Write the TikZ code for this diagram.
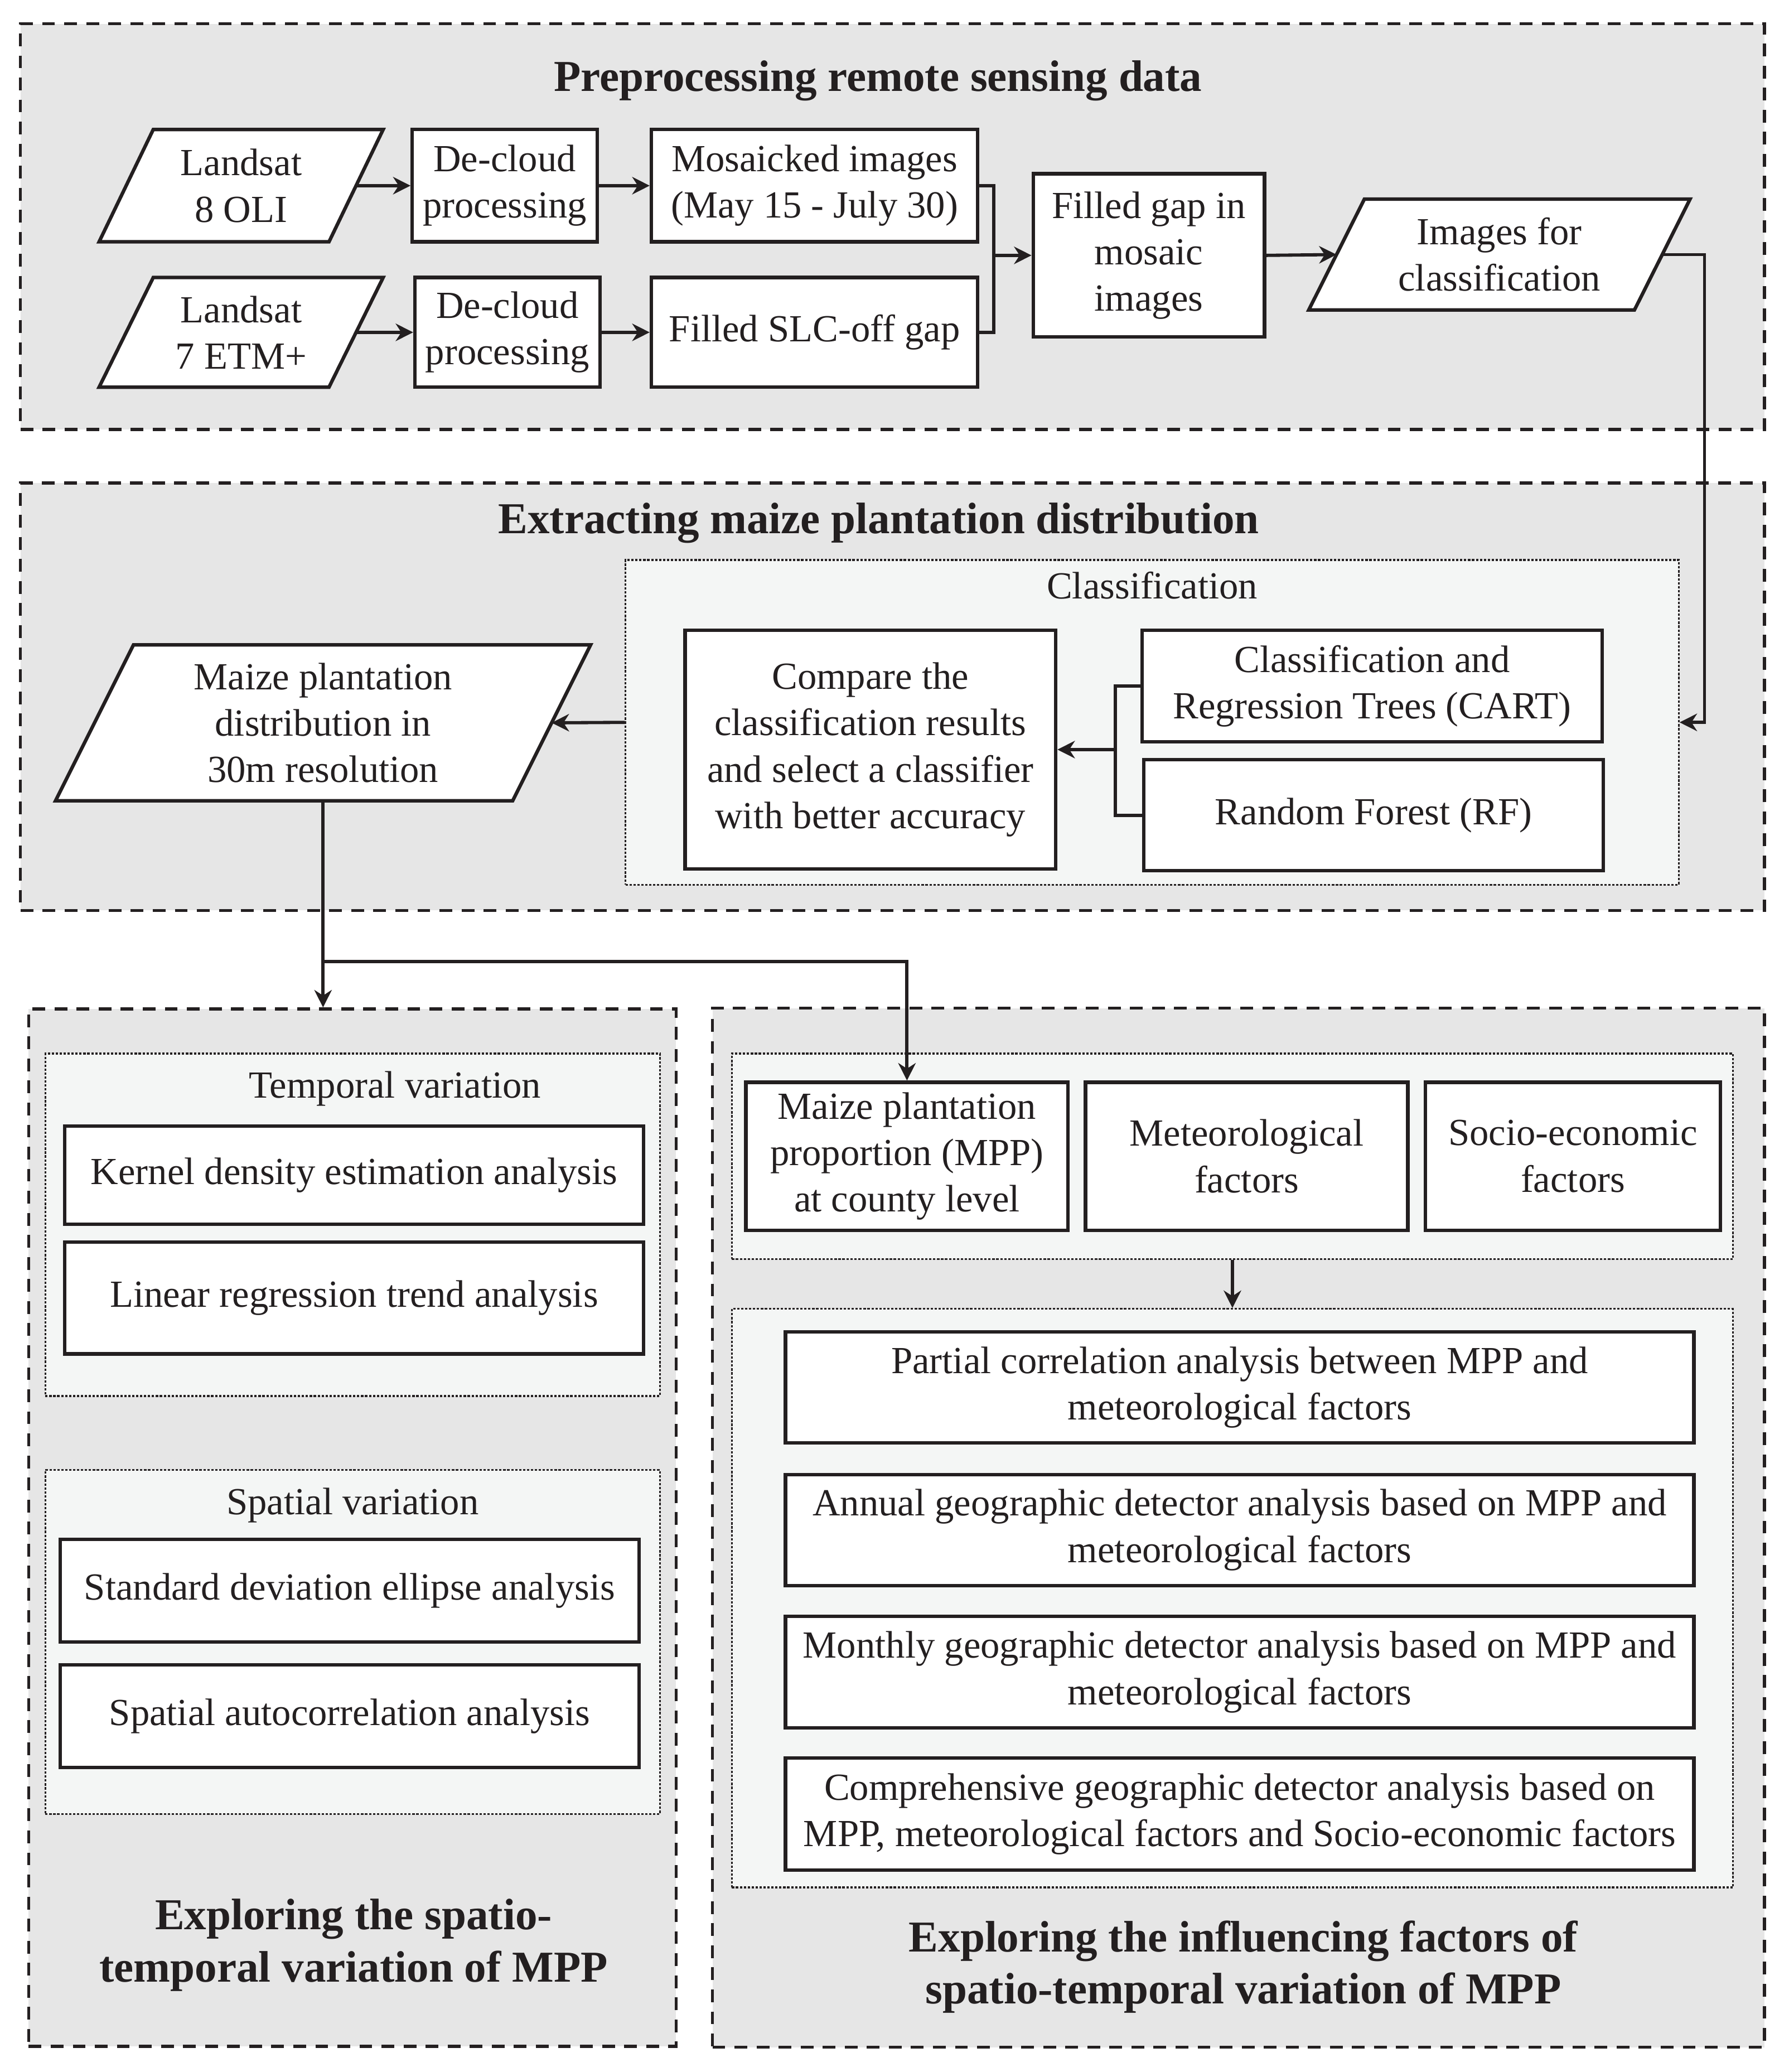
\documentclass[tikz,border=0pt]{standalone}
\usepackage{fontspec}
\setmainfont{Liberation Serif}
\usetikzlibrary{arrows.meta,calc}
\definecolor{outergray}{HTML}{E6E6E6}
\definecolor{innergray}{HTML}{F4F6F5}
\definecolor{ink}{HTML}{231F20}
\newcommand\mkbox[7]{%
  \node[#1, minimum width={(#5-#3)*0.02cm}, minimum height={(#6-#4)*0.02cm}] (#2) at ({(#3+#5)/2},{(#4+#6)/2}) {#7};}
\newcommand\mkpara[6]{%
  \draw[parabox] (#2,#3) -- (#4,#5) -- ({#4+#6},#5) -- ({#2+#6},#3) -- cycle;
  \coordinate (#1-l) at ({(#2+#4)/2},{(#3+#5)/2});
  \coordinate (#1-r) at ({(#2+#4)/2+#6},{(#3+#5)/2});
  \coordinate (#1-b) at ({(#2+#4+#6)/2},#3);
  \coordinate (#1-c) at ({(#2+#4+#6)/2},{(#3+#5)/2});}
\tikzset{
  txt/.style={font=\fontsize{16.5}{20}\selectfont, align=center, text=ink},
  ttl/.style={font=\fontsize{19}{22.5}\selectfont\bfseries, align=center, text=ink},
  outerbox/.style={draw=ink, fill=outergray, line width=1.3pt, dash pattern=on 5.5pt off 4pt, inner sep=0pt},
  innerbox/.style={draw=ink, fill=innergray, line width=0.8pt, dash pattern=on 1pt off 0.7pt, inner sep=0pt},
  whitebox/.style={txt, draw=ink, fill=white, line width=1.5pt, inner sep=2pt},
  parabox/.style={draw=ink, fill=white, line width=1.5pt, line join=miter},
  conn/.style={draw=ink, line width=1.4pt},
  arr/.style={conn, -{Stealth[length=7.5pt,width=7.5pt,inset=2.4pt]}},
}
\begin{document}
\begin{tikzpicture}[x=0.02cm, y=-0.02cm]
\useasboundingbox (0,0) rectangle (1354,1568);
\fill[white] (0,0) rectangle (1354,1568);

% ---------- outer containers ----------
\mkbox{outerbox}{pre}{15.5}{18}{1335.5}{325}{}
\mkbox{outerbox}{ext}{15.5}{365.5}{1335.5}{689}{}
\mkbox{outerbox}{lbox}{21.7}{763.5}{511.7}{1548.6}{}
\mkbox{outerbox}{rbox}{539.2}{763}{1335.4}{1549.3}{}

% ---------- inner dotted containers ----------
\mkbox{innerbox}{cls}{473.4}{423.7}{1270.5}{669.6}{}
\mkbox{innerbox}{tmp}{34.3}{797.3}{499.4}{1056.5}{}
\mkbox{innerbox}{spa}{34.3}{1112.4}{499.4}{1372.8}{}
\mkbox{innerbox}{rtop}{553.9}{797.3}{1311.6}{952.7}{}
\mkbox{innerbox}{rbot}{553.9}{990.5}{1311.6}{1428.3}{}

% ---------- titles and labels ----------
\node[ttl] (t1) at (664.5,61) {Preprocessing remote sensing data};
\node[ttl] (t2) at (665,396) {Extracting maize plantation distribution};
\node[ttl] (t3) at (267.6,1472) {Exploring the spatio-\\temporal variation of MPP};
\node[ttl] (t4) at (941,1488.5) {Exploring the influencing factors of\\spatio-temporal variation of MPP};
\node[txt] (clsl) at (872,443) {Classification};
\node[txt] (tmpl) at (299,824) {Temporal variation};
\node[txt] (spal) at (266.9,1139) {Spatial variation};

% ---------- preprocessing ----------
\mkpara{l8}{75}{183}{116}{98}{174}
\node[txt] (l8t) at (l8-c) {Landsat\\8 OLI};
\mkpara{l7}{75}{293}{116}{210}{174}
\node[txt] (l7t) at (l7-c) {Landsat\\7 ETM+};
\mkbox{whitebox}{dc1}{312}{98}{452}{183}{De-cloud\\processing}
\mkbox{whitebox}{dc2}{314}{210}{454}{293}{De-cloud\\processing}
\mkbox{whitebox}{mos}{493}{98}{740}{183}{Mosaicked images\\(May 15 - July 30)}
\mkbox{whitebox}{slc}{493}{210}{740}{293}{Filled SLC-off gap}
\mkbox{whitebox}{fg}{782}{131.5}{957}{255}{Filled gap in\\mosaic\\images}
\mkpara{img}{990.5}{234.6}{1032.6}{150.7}{246.5}
\node[txt] (imgt) at (img-c) {Images for\\classification};

% ---------- extraction ----------
\mkpara{mz}{42}{606}{101}{488}{346}
\node[txt] (mzt) at (mz-c) {Maize plantation\\distribution in\\30m resolution};
\mkbox{whitebox}{cmp}{518.5}{477}{799}{657.5}{Compare the\\classification results\\and select a classifier\\with better accuracy}
\mkbox{whitebox}{cart}{864.5}{477}{1212.5}{561.5}{Classification and\\Regression Trees (CART)}
\mkbox{whitebox}{rf}{865.7}{575}{1213.4}{659}{Random Forest (RF)}

% ---------- spatio-temporal ----------
\mkbox{whitebox}{ker}{49}{852}{487}{926.4}{Kernel density estimation analysis}
\mkbox{whitebox}{lin}{49}{940}{487}{1024.6}{Linear regression trend analysis}
\mkbox{whitebox}{sde}{45.5}{1165}{483.7}{1242.7}{Standard deviation ellipse analysis}
\mkbox{whitebox}{sac}{45.5}{1260}{483.7}{1337.6}{Spatial autocorrelation analysis}

% ---------- influencing factors ----------
\mkbox{whitebox}{mpp}{564.5}{819}{808.4}{931}{Maize plantation\\proportion (MPP)\\at county level}
\mkbox{whitebox}{met}{821.6}{819}{1065.5}{931}{Meteorological\\factors}
\mkbox{whitebox}{soc}{1078.8}{819}{1302.1}{931}{Socio-economic\\factors}
\mkbox{whitebox}{pc}{594.5}{1008}{1282}{1092}{Partial correlation analysis between MPP and\\meteorological factors}
\mkbox{whitebox}{ann}{594.5}{1115.8}{1282}{1199.8}{Annual geographic detector analysis based on MPP and\\meteorological factors}
\mkbox{whitebox}{mon}{594.5}{1223.2}{1282}{1307.6}{Monthly geographic detector analysis based on MPP and\\meteorological factors}
\mkbox{whitebox}{com}{594.5}{1330.5}{1282}{1415.2}{Comprehensive geographic detector analysis based on\\MPP, meteorological factors and Socio-economic factors}

% ---------- connectors ----------
\coordinate (mrg) at (752,193.25);
\coordinate (brk) at (844.2,567.25);
\coordinate (split) at (244.5,727.5);

\draw[arr] (l8-r) -- (dc1.west);
\draw[arr] (l7-r) -- (dc2.west);
\draw[arr] (dc1.east) -- (mos.west);
\draw[arr] (dc2.east) -- (slc.west);
\draw[conn] (mos.east) -| (mrg);
\draw[conn] (slc.east) -| (mrg);
\draw[arr] (mrg) -- (fg.west);
\draw[arr] (fg.east) -- (img-l);
\draw[arr] (img-r) -- ++(32,0) |- (cls.east);
\draw[arr] (cls.west) -- (mz-r);
\draw[conn] (cart.west) -| (brk);
\draw[conn] (rf.west) -| (brk);
\draw[arr] (brk) -- (cmp.east);
\draw[arr] (mz-b) -- (mz-b |- lbox.north);
\draw[arr] (split) -| (mpp.north);
\draw[arr] (rtop.south) -- (rbot.north);
\end{tikzpicture}
\end{document}
